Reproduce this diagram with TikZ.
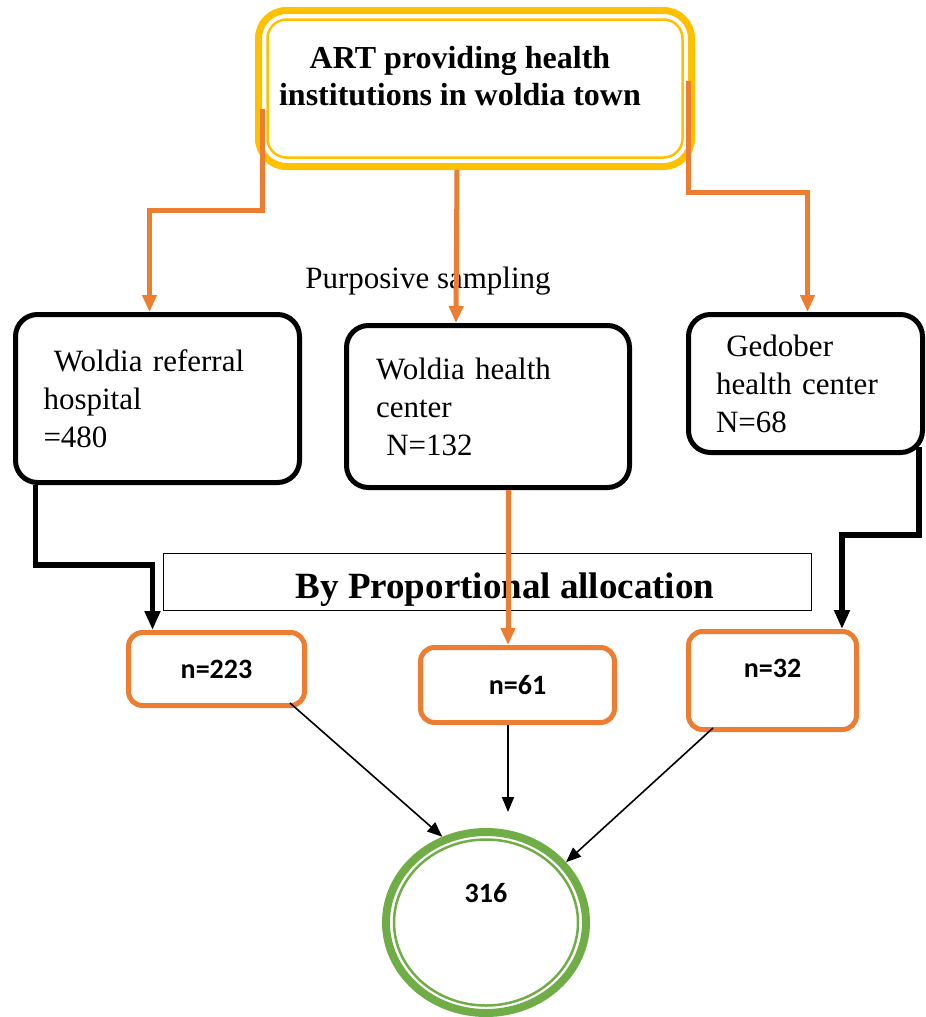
\documentclass[tikz,border=0pt]{standalone}
\usepackage{fontspec}
\setmainfont{Liberation Serif}
\newfontfamily\calibfont{Carlito}
\usepackage{tikz}
\usetikzlibrary{arrows.meta,positioning,calc,shapes.geometric}
\definecolor{ornge}{RGB}{237,125,49}
\definecolor{gold}{RGB}{255,192,0}
\definecolor{leaf}{RGB}{112,173,71}
\tikzset{
  srcbox/.style={draw=gold,line width=7pt,rounded corners=28pt,fill=white,align=center,
                 font=\bfseries\fontsize{32}{37}\selectfont},
  instbox/.style={draw=black,line width=5pt,rounded corners=22pt,fill=white,align=left,
                  font=\fontsize{31}{38}\selectfont},
  smpbox/.style={draw=ornge,line width=5pt,rounded corners=14pt,fill=white,
                 font=\calibfont\bfseries\fontsize{28}{32}\selectfont},
  propbox/.style={draw=black,line width=1.5pt,fill=white,
                  font=\bfseries\fontsize{37}{42}\selectfont},
  totnode/.style={ellipse,draw=leaf,line width=8pt,fill=white,
                  font=\calibfont\bfseries\fontsize{28}{32}\selectfont},
  flowo/.style={draw=ornge,line width=5pt,-{Triangle[length=17pt,width=14pt]}},
  flowk/.style={draw=black,line width=5.5pt,-{Triangle[length=19pt,width=15pt]}},
  sumarr/.style={draw=black,line width=1.6pt,-{Triangle[length=15pt,width=12pt]}},
}

\begin{document}
\begin{tikzpicture}[x=1pt,y=-1pt]
  \useasboundingbox (0,0) rectangle (926,1017);

  % --- source ----------------------------------------------------------------
  \node[srcbox,minimum width=433pt,minimum height=156pt,text depth=26pt] (src) at (475,88.5)
        {ART providing health\hspace*{30pt}\\institutions in woldia town\hspace*{30pt}};
  \draw[gold,line width=2.5pt,rounded corners=19pt]
        ([shift={(12.5,12.5)}]src.north west) rectangle ([shift={(-12.5,-12.5)}]src.south east);

  \node[font=\fontsize{31}{38}\selectfont] (purp) at (428,281) {Purposive sampling};

  % --- institutions ----------------------------------------------------------
  \node[instbox,minimum width=284pt,minimum height=168pt,text width=228pt] (hosp) at (157.5,398.5)
        {\ Woldia referral\\hospital\\=480};
  \node[instbox,minimum width=283pt,minimum height=162pt,text width=224pt] (hc) at (488,406.5)
        {Woldia health\\center\\\ N=132};
  \node[instbox,minimum width=234pt,minimum height=138pt,text width=179pt] (ged) at (805.5,383.5)
        {\ Gedober\\health center\\N=68};

  % --- allocation ------------------------------------------------------------
  \node[propbox,minimum width=648pt,minimum height=57pt,text height=40pt] (prop) at (487.5,582)
        {\hspace*{35pt}By Proportional allocation};

  \node[smpbox,minimum width=176pt,minimum height=73pt] (n223) at (216.5,669) {n=223};
  \node[smpbox,minimum width=194pt,minimum height=75pt] (n61)  at (517.5,685) {n=61};
  \node[smpbox,minimum width=168pt,minimum height=98pt,text depth=24pt] (n32) at (772.5,680.5) {n=32};

  \node[totnode,minimum width=200pt,minimum height=181pt,text depth=60pt] (sum) at (486,922.5) {316};
  \draw[leaf,line width=2.5pt] (sum.center) ellipse [x radius=92pt,y radius=83pt];

  % --- connectors ------------------------------------------------------------
  \draw[flowo] ([shift={(7,20)}]src.west) -- ++(0,102) -| ([xshift=-8pt]hosp.north);
  \draw[flowo] ([xshift=-18pt]src.south) -- ([xshift=-32pt]hc.north);
  \draw[flowo] ([shift={(-7,-8)}]src.east) -- ++(0,112) -| ([xshift=2pt]ged.north);

  \draw[flowk] ([xshift=-122pt]hosp.south) -- ++(0,80) -| ([xshift=-64pt]n223.north);
  \draw[flowo] ([xshift=20pt]hc.south) -- ([xshift=-9.5pt]n61.north);
  \draw[flowk] ([shift={(-6,-8)}]ged.south east) -- ++(0,88) -| ([xshift=69.5pt]n32.north);

  % to the total
  \draw[sumarr] ([shift={(-17,-5)}]n223.south east) -- (sum.117);
  \draw[sumarr] ([xshift=-9.5pt]n61.south) -- ([shift={(22,-16)}]sum.north);
  \draw[sumarr] ([shift={(27,-4)}]n32.south west) -- (sum.37);
\end{tikzpicture}
\end{document}
